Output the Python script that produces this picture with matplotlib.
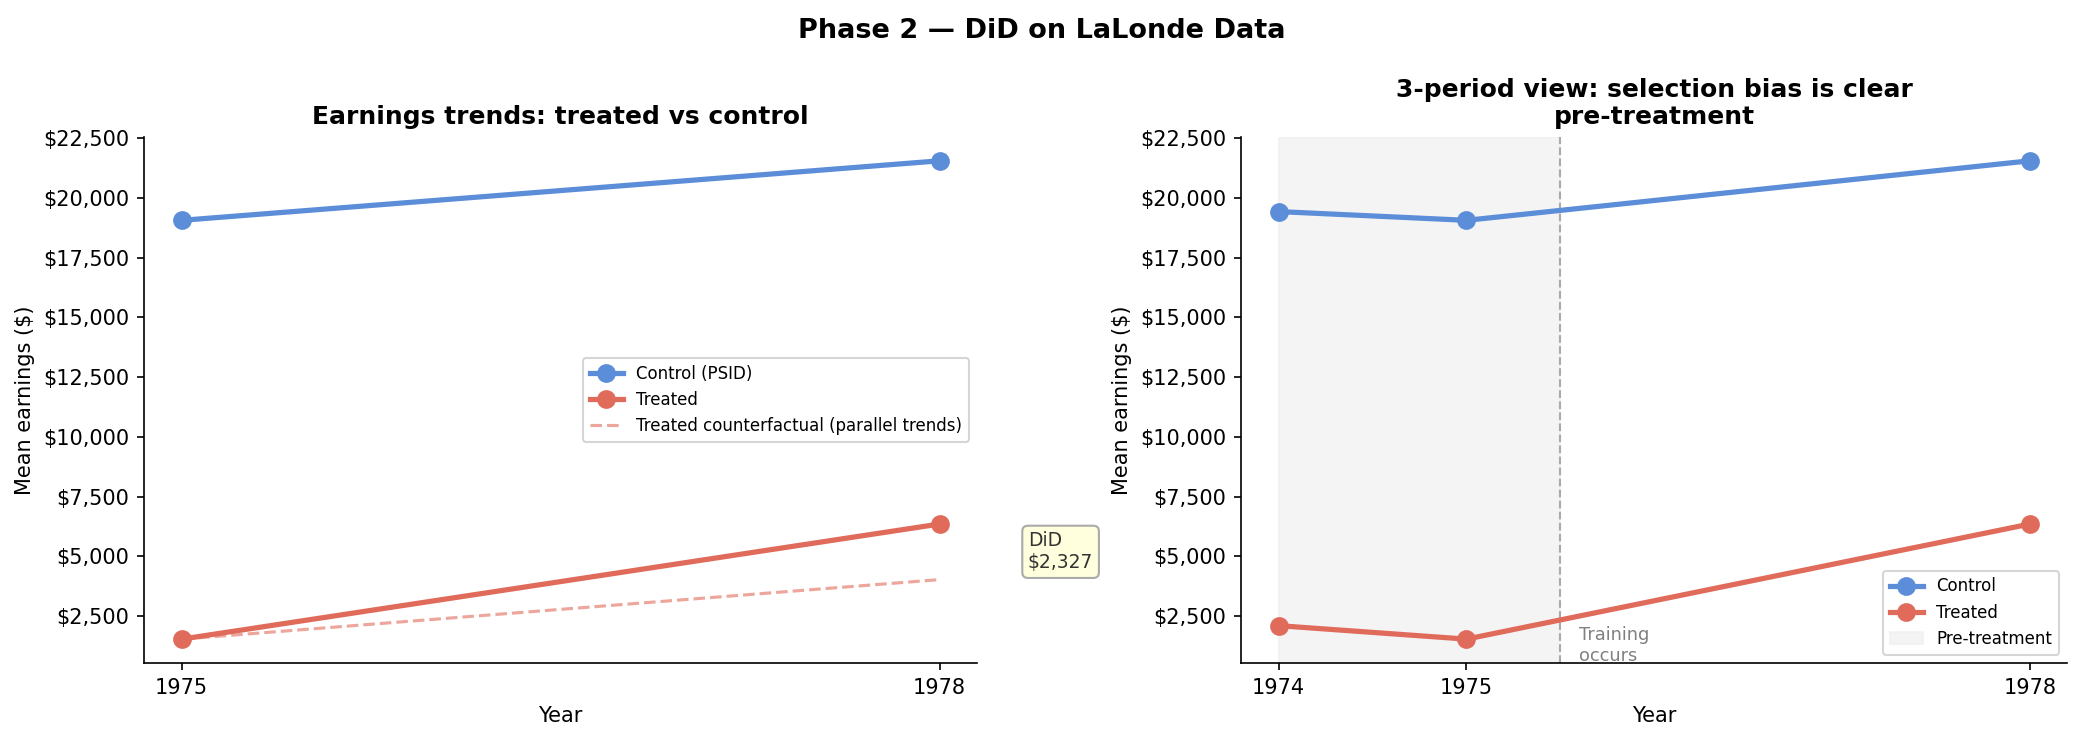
import matplotlib
matplotlib.use("Agg")
import matplotlib.pyplot as plt
import matplotlib.ticker as mticker

# LaLonde mean earnings (PSID control vs NSW treated)
years_2 = [1975, 1978]
years_3 = [1974, 1975, 1978]
control_3 = [19429, 19063, 21554]
treated_3 = [2096, 1532, 6349]
control_2 = control_3[1:]
treated_2 = treated_3[1:]
did_value = 2327

blue = "#5B8DD9"
red = "#E06B5A"

counterfactual = [treated_2[0], treated_2[0] + (control_2[1] - control_2[0])]

fig = plt.figure(figsize=(2084 / 150, 740 / 150), dpi=150)
ax1 = fig.add_axes([0.069, 0.104, 0.400, 0.711])
ax2 = fig.add_axes([0.5955, 0.104, 0.3965, 0.711])

money = mticker.FuncFormatter(lambda v, p: f"${v:,.0f}")

# Left: two-period DiD
ax1.plot(years_2, control_2, "o-", color=blue, lw=2.5, ms=8, label="Control (PSID)")
ax1.plot(years_2, treated_2, "o-", color=red, lw=2.5, ms=8, label="Treated")
ax1.plot(years_2, counterfactual, "--", color=red, alpha=0.6, lw=1.5,
         label="Treated counterfactual (parallel trends)")
ax1.text(1978.35, (treated_2[1] + counterfactual[1]) / 2, f"DiD\n${did_value:,}",
         fontsize=9, va="center", ha="left", color="#333333", clip_on=False,
         bbox=dict(boxstyle="round,pad=0.3", facecolor="#FFFFDD", edgecolor="#AAAAAA"))
ax1.set_xticks(years_2)
ax1.set_title("Earnings trends: treated vs control", fontsize=12, fontweight="bold")
ax1.set_xlabel("Year")
ax1.set_ylabel("Mean earnings ($)")
ax1.yaxis.set_major_formatter(money)
ax1.legend(loc="center right", fontsize=8)

# Right: three-period view
ax2.axvspan(1974, 1975.5, color="#EEEEEE", alpha=0.6, label="Pre-treatment")
ax2.axvline(1975.5, color="#AAAAAA", ls="--", lw=1)
ax2.plot(years_3, control_3, "o-", color=blue, lw=2.5, ms=8, label="Control")
ax2.plot(years_3, treated_3, "o-", color=red, lw=2.5, ms=8, label="Treated")
ax2.set_xticks(years_3)
ax2.set_title("3-period view: selection bias is clear\npre-treatment", fontsize=12,
              fontweight="bold")
ax2.set_xlabel("Year")
ax2.set_ylabel("Mean earnings ($)")
ax2.yaxis.set_major_formatter(money)
ylo = ax2.get_ylim()[0]
ax2.text(1975.6, ylo + 1550, "Training\noccurs", fontsize=8.5, color="gray",
         va="top", clip_on=True)
h, l = ax2.get_legend_handles_labels()
ax2.legend(h[1:] + h[:1], l[1:] + l[:1], loc="lower right", fontsize=8)

for ax in (ax1, ax2):
    ax.spines["top"].set_visible(False)
    ax.spines["right"].set_visible(False)

fig.suptitle("Phase 2 — DiD on LaLonde Data", fontsize=13, fontweight="bold", y=0.975)

fig.savefig("out.png", dpi=150)
